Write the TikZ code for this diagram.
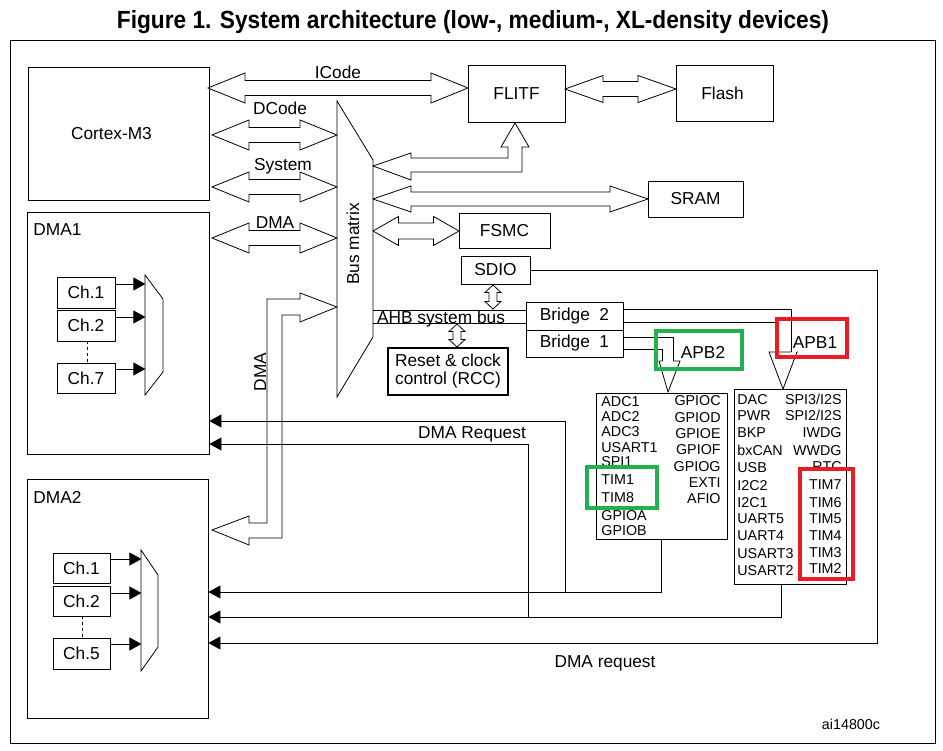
\documentclass[tikz,border=0pt]{standalone}
\usepackage{graphicx}
\usepackage{fontspec}
\setmainfont{Liberation Sans}
\usetikzlibrary{arrows.meta}
\definecolor{hlgreen}{RGB}{34,177,76}
\definecolor{hlred}{RGB}{237,28,36}
% horizontal double block arrow: x1, x2, y, head length, head half width, shaft half width
\newcommand{\hdarrow}[6]{%
  \draw[fat] (#1,#3) -- ({#1+#4},{#3-#5}) -- ({#1+#4},{#3-#6}) -- ({#2-#4},{#3-#6}) -- ({#2-#4},{#3-#5}) -- (#2,#3) -- ({#2-#4},{#3+#5}) -- ({#2-#4},{#3+#6}) -- ({#1+#4},{#3+#6}) -- ({#1+#4},{#3+#5}) -- cycle;}
% vertical double block arrow: y1, y2, x, head length, head half width, shaft half width
\newcommand{\vdarrow}[6]{%
  \draw[fat] (#3,#1) -- ({#3+#5},{#1+#4}) -- ({#3+#6},{#1+#4}) -- ({#3+#6},{#2-#4}) -- ({#3+#5},{#2-#4}) -- (#3,#2) -- ({#3-#5},{#2-#4}) -- ({#3-#6},{#2-#4}) -- ({#3-#6},{#1+#4}) -- ({#3-#5},{#1+#4}) -- cycle;}
\begin{document}
\begin{tikzpicture}[x=1pt,y=-1pt,line width=0.8pt,
  box/.style={draw,inner sep=0pt,font=\fontsize{17.3}{19}\selectfont},
  lbl/.style={inner sep=0pt,font=\fontsize{17.3}{19}\selectfont,text height=12.4pt,text depth=0pt},
  per/.style={inner sep=0pt,font=\fontsize{14.3}{16}\selectfont,text height=10.2pt,text depth=0pt},
  req/.style={-{Triangle[length=12pt,width=13pt]}},
  fat/.style={draw,fill=white,line join=miter},
  hlg/.style={draw=hlgreen,line width=4pt},
  hlr/.style={draw=hlred,line width=4pt}]
\useasboundingbox (0,0) rectangle (943,751);
\fill[white] (0,0) rectangle (943,751);
% title and frame
\node[inner sep=0pt] (title) at (473,22) {\resizebox{712pt}{18pt}{\bfseries Figure 1. System architecture (low-, medium-, XL-density devices)}};
\draw (10,40) rectangle (935,743);

% main blocks
\node[box,minimum width=181pt,minimum height=133pt] (cortex) at (118.5,133.5) {Cortex-M3\hspace*{14pt}};
\node[box,minimum width=182pt,minimum height=242pt] (dma1) at (118,333) {};
\node[lbl,anchor=west] (dma1l) at (33,229) {DMA1};
\node[box,minimum width=181pt,minimum height=239pt] (dma2) at (117.5,598.5) {};
\node[lbl,anchor=west] (dma2l) at (33,497) {DMA2};
\node[box,minimum width=97pt,minimum height=57pt] (flitf) at (516.5,93.5) {FLITF};
\node[box,minimum width=97pt,minimum height=56pt] (flash) at (724.5,93) {Flash\hspace*{4pt}};
\node[box,minimum width=95pt,minimum height=36pt] (sram) at (695.5,199) {SRAM};
\node[box,minimum width=91pt,minimum height=35pt] (fsmc) at (504.5,230.5) {FSMC};
\node[box,minimum width=69pt,minimum height=28pt] (sdio) at (495.5,270) {SDIO};
\node[box,minimum width=97pt,minimum height=28pt] (br2) at (574.5,316) {Bridge~~2};
\node[box,minimum width=97pt,minimum height=27pt] (br1) at (574.5,343.5) {Bridge~~1};
\node[box,line width=2pt,minimum width=120pt,minimum height=47pt,align=center] (rcc) at (448,371.5) {Reset \& clock\\[-1pt]control (RCC)};
\node[box,minimum width=131pt,minimum height=146pt] (apb2box) at (661.5,466) {};
\node[box,minimum width=112pt,minimum height=195pt] (apb1box) at (790,486.5) {};

% DMA1 channels and mux
\node[box,minimum width=58pt,minimum height=31pt] (a1) at (86,292.5) {Ch.1};
\node[box,minimum width=58pt,minimum height=31pt] (a2) at (86,325.5) {Ch.2};
\node[box,minimum width=58pt,minimum height=30pt] (a7) at (86,378) {Ch.7};
\draw (145,275) -- (163,299) -- (163,372) -- (145,395) -- cycle;
\draw[dashed] (a2.south -| 87,0) -- (a7.north -| 87,0);
\draw[req] ([yshift=8.5pt]a1.east) -- ++(30,0);
\draw[req] ([yshift=8.5pt]a2.east) -- ++(30,0);
\draw[req] ([yshift=9pt]a7.east) -- ++(30,0);

% DMA2 channels and mux
\node[box,minimum width=57pt,minimum height=30pt] (b1) at (81.5,568) {Ch.1};
\node[box,minimum width=57pt,minimum height=30pt] (b2) at (81.5,601) {Ch.2};
\node[box,minimum width=57pt,minimum height=31pt] (b5) at (81.5,653.5) {Ch.5};
\draw (141,550) -- (158,575) -- (158,647) -- (141,671) -- cycle;
\draw[dashed] (b2.south -| 82,0) -- (b5.north -| 82,0);
\draw[req] ([yshift=9pt]b1.east) -- ++(31,0);
\draw[req] ([yshift=8pt]b2.east) -- ++(31,0);
\draw[req] ([yshift=9.5pt]b5.east) -- ++(31,0);

% bus matrix
\draw (337,101) -- (373,160) -- (373,337) -- (337,397) -- cycle;
\node[lbl,rotate=90] (bm) at (353,244) {Bus matrix};

% block arrows
\hdarrow{208}{468}{88}{37}{15}{7.5}
\hdarrow{212}{337}{135}{37}{15}{7.5}
\hdarrow{212}{337}{187}{37}{15}{7.5}
\hdarrow{212}{337}{238}{37}{15}{7.5}
\hdarrow{565}{676}{89}{38}{13.5}{7.5}
\hdarrow{373}{648}{199}{38}{13}{7}
\hdarrow{373}{459}{231}{25.5}{14.5}{8}
\vdarrow{285}{309}{493}{7.5}{8}{4}
\vdarrow{324}{347}{457}{7.5}{8}{4}
% bus matrix to FLITF
\draw[fat] (373,166) -- (411,153) -- (411,158) -- (508,158) -- (508,147) -- (501,147) -- (515,123) -- (529,147) -- (522,147) -- (522,172) -- (411,172) -- (411,180) -- cycle;
% DMA path between bus matrix and DMA2
\draw[fat] (337,307) -- (300,293) -- (300,299) -- (267,299) -- (267,523) -- (249,523) -- (249,516) -- (212,530) -- (249,545) -- (249,538) -- (282,538) -- (282,315) -- (300,315) -- (300,322) -- cycle;
\node[lbl,rotate=90] (dmav) at (260,372) {DMA};

% block arrow labels
\node[lbl] (icode) at (338,72) {ICode};
\node[lbl] (dcode) at (280,108) {DCode};
\node[lbl] (system) at (283,164) {System};
\node[lbl] (dmah) at (275,222) {DMA};

% AHB system bus
\draw (373,310) -- (br2.west |- 0,310);
\draw (373,323) -- (br2.west |- 0,323);
\node[lbl] (ahb) at (441,317) {AHB system bus};

% bridges to APB
\draw (br2.east |- 0,309) -- (791,309) -- (791,352);
\draw (br2.east |- 0,322) -- (777,322);
\draw (791,352) -- (769,352) -- (783,389) -- (797,352) -- (798,352);
\node[lbl,fill=white,inner sep=1pt] (apb1) at (815,342) {APB1};
\draw (br1.east |- 0,337) -- (673,337) -- (673,361);
\draw (br1.east |- 0,349) -- (662,349) -- (662,361);
\draw (662,361) -- (659,361) -- (668,392) -- (680,361) -- (673,361);
\node[lbl] (apb2) at (703,352) {APB2};

% APB2 peripherals
\foreach \t/\y [count=\i] in {ADC1/401,ADC2/416,ADC3/431,USART1/447,SPI1/461,TIM1/479,TIM8/497,GPIOA/515,GPIOB/530}
  \node[per,anchor=west] (pl\i) at (601,\y) {\t};
\foreach \t/\y [count=\i] in {GPIOC/400,GPIOD/417,GPIOE/433,GPIOF/449,GPIOG/466,EXTI/482,AFIO/498}
  \node[per,anchor=east] (pr\i) at (721,\y) {\t};
% APB1 peripherals
\foreach \t/\y [count=\i] in {DAC/399,PWR/415,BKP/432,bxCAN/450,USB/467,I2C2/485,I2C1/502,UART5/518,UART4/535,USART3/553,USART2/570}
  \node[per,anchor=west] (ql\i) at (737,\y) {\t};
\foreach \t/\y [count=\i] in {{SPI3/I2S}/399,{SPI2/I2S}/415,IWDG/432,WWDG/450,RTC/466,TIM7/484,TIM6/502,TIM5/518,TIM4/535,TIM3/552,TIM2/568}
  \node[per,anchor=east] (qr\i) at (842,\y) {\t};

% DMA request lines
\coordinate (r2) at (661.5,592);
\coordinate (r2b) at (565,592);
\coordinate (r2c) at (565,421);
\coordinate (r1t) at (781,584);
\coordinate (r1) at (781,617);
\coordinate (r1b) at (528,617);
\coordinate (r1c) at (528,444);
\coordinate (sdR) at (877,270);
\coordinate (sdB) at (877,643);
\draw[req] (apb2box.south) -- (r2) -- (dma2.east |- r2);
\draw[req] (r2b) -- (r2c) -- (dma1.east |- r2c);
\draw[req] (r1t) -- (r1) -- (dma2.east |- r1);
\draw[req] (r1b) -- (r1c) -- (dma1.east |- r1c);
\draw[req] (sdio.east) -- (sdR) -- (sdB) -- (dma2.east |- sdB);
\node[lbl] (dreq1) at (472,432) {DMA Request};
\node[lbl] (dreq2) at (605,661) {DMA request};

% highlight boxes
\draw[hlg] (656,331) rectangle (742,369);
\draw[hlg] (587,467) rectangle (657,508);
\draw[hlr] (777,319) rectangle (847,357);
\draw[hlr] (800,469) rectangle (853,579);

\node[per] (code) at (851,724) {ai14800c};
\end{tikzpicture}
\end{document}
